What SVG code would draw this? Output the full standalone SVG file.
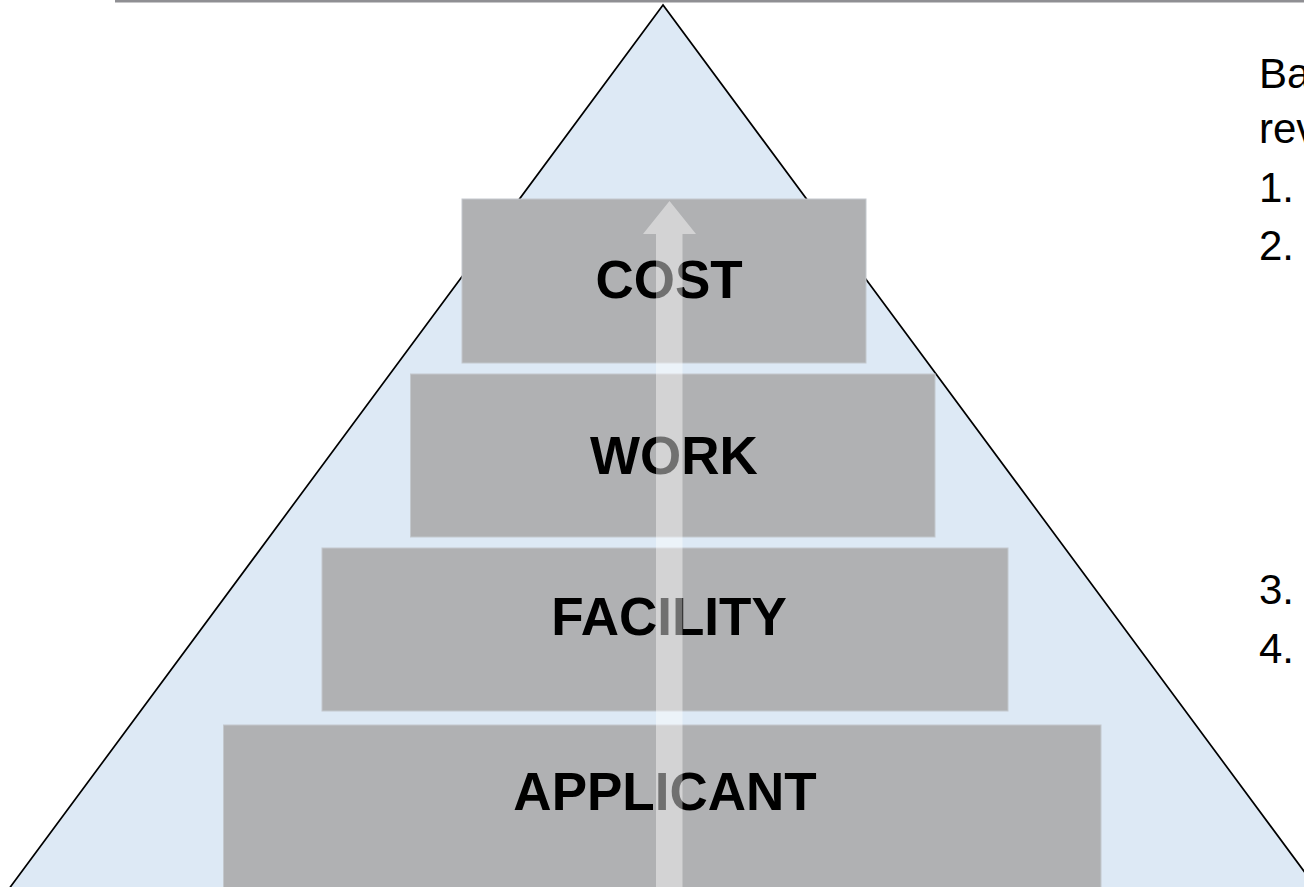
<svg xmlns="http://www.w3.org/2000/svg" width="1304" height="887" viewBox="0 0 1304 887">
<style>
.box{fill:#b0b1b3;stroke:#c3c8cd;stroke-width:1}
.lbl{font-family:"Liberation Sans",Arial,sans-serif;font-weight:bold;font-size:53px;fill:#000;text-anchor:middle}
.side{font-family:"Liberation Sans",Arial,sans-serif;font-size:42px;fill:#000}
</style>
<rect width="1304" height="887" fill="#fff"/>
<rect x="115" y="0" width="1189" height="2.5" fill="#8f8f93"/>
<g id="pyramid">
<polygon points="663,5 0.7,900 1325.3,900" fill="#dde9f5" stroke="#000" stroke-width="1.7" stroke-linejoin="miter"/>
</g>
<g id="node-cost">
<rect class="box" x="462" y="199" width="404" height="164"/>
<text class="lbl" x="669" y="298">COST</text>
</g>
<g id="node-work">
<rect class="box" x="410.5" y="374" width="524.5" height="163"/>
<text class="lbl" x="674" y="474">WORK</text>
</g>
<g id="node-facility">
<rect class="box" x="322" y="548" width="686" height="163"/>
<text class="lbl" x="669" y="635">FACILITY</text>
</g>
<g id="node-applicant">
<rect class="box" x="223.5" y="725" width="877.5" height="170"/>
<text class="lbl" x="665" y="810">APPLICANT</text>
</g>
<g id="connectors">
<polygon points="669.5,201 696,234 682.5,234 682.5,887 656,887 656,234 643,234" fill="#fff" fill-opacity="0.44"/>
</g>
<g id="side-text">
<text class="side" x="1259" y="88">Ba</text>
<text class="side" x="1259" y="143">rev</text>
<text class="side" x="1259" y="202">1.</text>
<text class="side" x="1259" y="260">2.</text>
<text class="side" x="1259" y="604">3.</text>
<text class="side" x="1259" y="663">4.</text>
</g>
</svg>
